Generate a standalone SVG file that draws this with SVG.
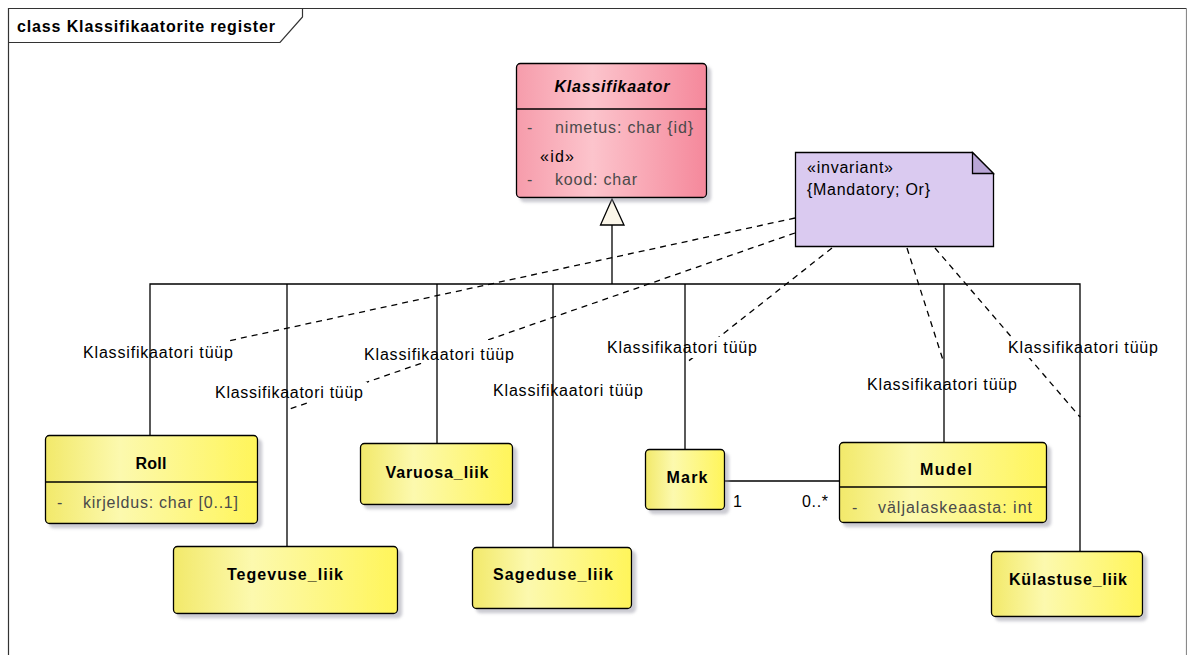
<svg xmlns="http://www.w3.org/2000/svg" width="1187" height="655" viewBox="0 0 1187 655">
  <style>
    .frame { fill: none; stroke: #333; stroke-width: 1.2; }
    .cls { stroke: #000; stroke-width: 1.3; }
    .yellow { fill: url(#gYellow); }
    .pink { fill: url(#gPink); }
    .line { fill: none; stroke: #000; stroke-width: 1.3; }
    .dash { fill: none; stroke: #000; stroke-width: 1.3; stroke-dasharray: 6 5; }
    .name { font-family: "Liberation Sans", Arial, sans-serif; font-size: 16px; font-weight: bold; fill: #000; }
    .attr { font-family: "Liberation Sans", Arial, sans-serif; font-size: 16px; fill: #4a4a4a; }
    .txt { font-family: "Liberation Sans", Arial, sans-serif; font-size: 16px; fill: #000; }
    .lblbg { fill: #fff; }
  </style>
  <defs>
    <linearGradient id="gYellow" x1="0" y1="0" x2="1" y2="0">
      <stop offset="0" stop-color="#f2e96a"/>
      <stop offset="0.35" stop-color="#fcf9ae"/>
      <stop offset="1" stop-color="#fff55a"/>
    </linearGradient>
    <linearGradient id="gPink" x1="0" y1="0" x2="1" y2="0">
      <stop offset="0" stop-color="#f69cab"/>
      <stop offset="0.4" stop-color="#fcc4cc"/>
      <stop offset="1" stop-color="#f5889b"/>
    </linearGradient>
    <filter id="shadow" x="-10%" y="-10%" width="130%" height="140%">
      <feDropShadow dx="4" dy="4" stdDeviation="1.5" flood-color="#8c8c9c" flood-opacity="0.45"/>
    </filter>
  </defs>

  <!-- diagram frame -->
  <g id="frame">
    <path class="frame" d="M8.5,700 V8.5 H1186.5"/>
    <path d="M1186.5,8.5 V700" fill="none" stroke="#8a8a8a" stroke-width="1.2"/>
    <path class="frame" d="M8.5,42.5 H280 L302.5,17 V8.5"/>
    <text class="name" x="17" y="32" textLength="258" lengthAdjust="spacing">class Klassifikaatorite register</text>
  </g>

  <!-- note links (dashed) -->
  <g id="connectors">
    <g id="note-links">
      <path class="dash" d="M795,218 L228,341"/>
      <path class="dash" d="M795,233 L287,410"/>
      <path class="dash" d="M832,248 L686,363"/>
      <path class="dash" d="M907,248 L943,360"/>
      <path class="dash" d="M935,248 L1080,417"/>
    </g>

    <!-- role label backgrounds -->
    <g id="label-bg">
      <rect class="lblbg" x="81" y="342" width="154" height="20"/>
      <rect class="lblbg" x="213" y="382" width="154" height="20"/>
      <rect class="lblbg" x="361" y="340" width="156" height="23"/>
      <rect class="lblbg" x="491" y="380" width="154" height="20"/>
      <rect class="lblbg" x="605" y="337" width="154" height="21"/>
      <rect class="lblbg" x="865" y="374" width="154" height="20"/>
      <rect class="lblbg" x="1006" y="337" width="154" height="21"/>
    </g>

    <!-- generalization tree -->
    <g id="generalization">
      <path class="line" d="M612,225 V284"/>
      <path class="line" d="M150,435 V284 H1080 V551"/>
      <path class="line" d="M287,284 V546"/>
      <path class="line" d="M437,284 V443"/>
      <path class="line" d="M553,284 V547"/>
      <path class="line" d="M685,284 V449"/>
      <path class="line" d="M944,284 V442"/>
      <path d="M612,199 L624,225 L600.5,225 Z" fill="#fbf6e9" stroke="#000" stroke-width="1.3"/>
    </g>

    <!-- association Mark - Mudel -->
    <g id="association">
      <path class="line" d="M725,481 H839"/>
      <text class="txt" x="733" y="507">1</text>
      <text class="txt" x="802" y="507" textLength="26" lengthAdjust="spacing">0..*</text>
    </g>

    <!-- role labels -->
    <g id="labels">
      <text class="txt" x="83" y="358" textLength="150" lengthAdjust="spacing">Klassifikaatori tüüp</text>
      <text class="txt" x="215" y="398" textLength="148" lengthAdjust="spacing">Klassifikaatori tüüp</text>
      <text class="txt" x="364" y="360" textLength="150" lengthAdjust="spacing">Klassifikaatori tüüp</text>
      <text class="txt" x="493" y="396" textLength="150" lengthAdjust="spacing">Klassifikaatori tüüp</text>
      <text class="txt" x="607" y="353" textLength="150" lengthAdjust="spacing">Klassifikaatori tüüp</text>
      <text class="txt" x="867" y="390" textLength="150" lengthAdjust="spacing">Klassifikaatori tüüp</text>
      <text class="txt" x="1008" y="353" textLength="150" lengthAdjust="spacing">Klassifikaatori tüüp</text>
    </g>
  </g>

  <!-- abstract base class -->
  <g id="Klassifikaator">
    <rect class="pink cls" x="516.5" y="63.5" width="190" height="134" rx="4" filter="url(#shadow)"/>
    <path class="line" d="M516.5,109 H706.5"/>
    <text class="name" x="612" y="92" text-anchor="middle" font-style="italic" textLength="115" lengthAdjust="spacing">Klassifikaator</text>
    <text class="attr" x="527" y="133">-</text>
    <text class="attr" x="555" y="133" textLength="138" lengthAdjust="spacing">nimetus: char {id}</text>
    <text class="txt" x="540" y="162" textLength="34" lengthAdjust="spacing">«id»</text>
    <text class="attr" x="527" y="185">-</text>
    <text class="attr" x="555" y="185" textLength="82" lengthAdjust="spacing">kood: char</text>
  </g>

  <!-- constraint note -->
  <g id="note-invariant">
    <path d="M795.5,152.5 H972.5 L993.5,173.5 V246.5 H795.5 Z" fill="#dacaf0" stroke="#000" stroke-width="1.3"/>
    <path d="M972.5,152.5 V173.5 H993.5 Z" fill="#b9a5d6" stroke="#000" stroke-width="1.3"/>
    <text class="txt" x="807" y="173" textLength="86" lengthAdjust="spacing">«invariant»</text>
    <text class="txt" x="807" y="195" textLength="123" lengthAdjust="spacing">{Mandatory; Or}</text>
  </g>

  <g id="Roll">
    <rect class="yellow cls" x="45.5" y="435.5" width="212" height="88" rx="4" filter="url(#shadow)"/>
    <path class="line" d="M45.5,482 H257.5"/>
    <text class="name" x="151" y="469" text-anchor="middle" textLength="31" lengthAdjust="spacing">Roll</text>
    <text class="attr" x="57" y="508">-</text>
    <text class="attr" x="83" y="508" textLength="155" lengthAdjust="spacing">kirjeldus: char [0..1]</text>
  </g>

  <g id="Tegevuse_liik">
    <rect class="yellow cls" x="173.5" y="546.5" width="224" height="67" rx="4" filter="url(#shadow)"/>
    <text class="name" x="285" y="580" text-anchor="middle" textLength="116" lengthAdjust="spacing">Tegevuse_liik</text>
  </g>

  <g id="Varuosa_liik">
    <rect class="yellow cls" x="360.5" y="443.5" width="152" height="61" rx="4" filter="url(#shadow)"/>
    <text class="name" x="437" y="478" text-anchor="middle" textLength="103" lengthAdjust="spacing">Varuosa_liik</text>
  </g>

  <g id="Sageduse_liik">
    <rect class="yellow cls" x="472.5" y="547.5" width="159" height="61" rx="4" filter="url(#shadow)"/>
    <text class="name" x="553" y="580" text-anchor="middle" textLength="120" lengthAdjust="spacing">Sageduse_liik</text>
  </g>

  <g id="Mark">
    <rect class="yellow cls" x="645.5" y="449.5" width="79" height="60" rx="4" filter="url(#shadow)"/>
    <text class="name" x="687" y="483" text-anchor="middle" textLength="41" lengthAdjust="spacing">Mark</text>
  </g>

  <g id="Mudel">
    <rect class="yellow cls" x="839.5" y="442.5" width="207" height="80" rx="4" filter="url(#shadow)"/>
    <path class="line" d="M839.5,487 H1046.5"/>
    <text class="name" x="946" y="475" text-anchor="middle" textLength="52" lengthAdjust="spacing">Mudel</text>
    <text class="attr" x="852" y="513">-</text>
    <text class="attr" x="878" y="513" textLength="154" lengthAdjust="spacing">väljalaskeaasta: int</text>
  </g>

  <g id="Kulastuse_liik">
    <rect class="yellow cls" x="991.5" y="551.5" width="151" height="65" rx="4" filter="url(#shadow)"/>
    <text class="name" x="1068" y="585" text-anchor="middle" textLength="118" lengthAdjust="spacing">Külastuse_liik</text>
  </g>
</svg>
